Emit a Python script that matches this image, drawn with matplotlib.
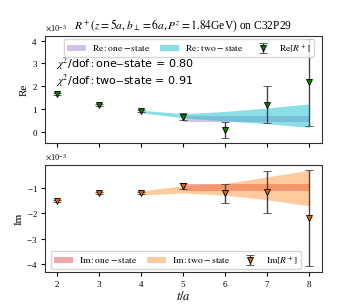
import numpy as np
import matplotlib
matplotlib.use('Agg')
import matplotlib.pyplot as plt

plt.rcParams['font.family'] = ['Liberation Serif', 'DejaVu Serif']
plt.rcParams['mathtext.fontset'] = 'stix'
plt.rcParams['axes.formatter.use_mathtext'] = True

# data points (x 1e-3)
t = [2, 3, 4, 5, 6, 7, 8]
re_val = [1.66, 1.19, 0.92, 0.67, 0.09, 1.20, 2.18]
re_err = [0.05, 0.05, 0.05, 0.14, 0.36, 0.80, 1.90]
im_val = [-1.52, -1.20, -1.20, -0.92, -1.22, -1.17, -2.20]
im_err = [0.04, 0.04, 0.04, 0.12, 0.37, 0.83, 1.88]

# fit bands
t_one = [5, 6, 7, 8]
re_one_lo = [0.43, 0.43, 0.43, 0.43]
re_one_hi = [0.70, 0.70, 0.70, 0.70]
im_one_lo = [-1.12, -1.12, -1.12, -1.12]
im_one_hi = [-0.85, -0.85, -0.85, -0.85]
t_two = [4, 5, 6, 7, 8]
re_two_lo = [0.84, 0.62, 0.48, 0.36, 0.20]
re_two_hi = [0.95, 0.80, 0.90, 1.05, 1.23]
im_two_lo = [-1.28, -1.20, -1.29, -1.47, -1.71]
im_two_hi = [-1.12, -0.92, -0.83, -0.57, -0.31]

chi2_one = 0.80
chi2_two = 0.91

fig, (ax1, ax2) = plt.subplots(2, 1, figsize=(3.57, 3.06), dpi=100, sharex=True)
fig.subplots_adjust(left=0.125, right=0.902, top=0.882, bottom=0.111, hspace=0.2)

fs = 7
leg_kw = dict(ncol=3, fontsize=6.8, handlelength=2.0, handletextpad=0.7,
              columnspacing=1.0, borderaxespad=0.3, borderpad=0.35)
ax1.fill_between(t_one, np.array(re_one_lo) * 1e-3, np.array(re_one_hi) * 1e-3,
                 color='tab:purple', alpha=0.4, lw=0, label=r'$\rm Re: one-state$')
ax1.fill_between(t_two, np.array(re_two_lo) * 1e-3, np.array(re_two_hi) * 1e-3,
                 color='tab:cyan', alpha=0.5, lw=0, label=r'$\rm Re: two-state$')
ax1.errorbar(t, np.array(re_val) * 1e-3, yerr=np.array(re_err) * 1e-3, fmt='v',
             color='green', mec='black', mew=0.6, ms=4, ecolor='#444444',
             elinewidth=1, capsize=3, label=r'$\rm Re[\mathit{R}^+]$')
ax1.set_ylim(-0.5e-3, 4.2e-3)
ax1.set_ylabel('Re', fontsize=fs + 1, labelpad=2)
ax1.legend(loc='upper center', bbox_to_anchor=(0.52, 1.0), **leg_kw)
ax1.text(0.04, 0.70, r'$\chi^2$/dof$:$one$-$state = %.2f' % chi2_one,
         transform=ax1.transAxes, fontsize=fs + 1, family='DejaVu Sans')
ax1.text(0.04, 0.545, r'$\chi^2$/dof$:$two$-$state = %.2f' % chi2_two,
         transform=ax1.transAxes, fontsize=fs + 1, family='DejaVu Sans')
ax1.set_title(r'$R^+(z=5a, b_\perp=6a, P^z=1.84$GeV) on C32P29',
              fontsize=8.3, pad=5)

ax2.fill_between(t_one, np.array(im_one_lo) * 1e-3, np.array(im_one_hi) * 1e-3,
                 color='tab:red', alpha=0.4, lw=0, label=r'$\rm Im: one-state$')
ax2.fill_between(t_two, np.array(im_two_lo) * 1e-3, np.array(im_two_hi) * 1e-3,
                 color='tab:orange', alpha=0.4, lw=0, label=r'$\rm Im: two-state$')
ax2.errorbar(t, np.array(im_val) * 1e-3, yerr=np.array(im_err) * 1e-3, fmt='v',
             color='#e06000', mec='black', mew=0.6, ms=4, ecolor='#444444',
             elinewidth=1, capsize=3, label=r'$\rm Im[\mathit{R}^+]$')
ax2.set_ylim(-4.3e-3, -0.1e-3)
ax2.set_xlim(1.7, 8.3)
ax2.set_ylabel('Im', fontsize=fs + 1, labelpad=2)
ax2.set_xlabel(r'$t/a$', fontsize=fs + 2, labelpad=1)
ax2.legend(loc='lower center', bbox_to_anchor=(0.473, 0.0), **leg_kw)

for ax in (ax1, ax2):
    ax.tick_params(labelsize=fs - 0.5, length=3, pad=2)
    ax.ticklabel_format(axis='y', style='sci', scilimits=(0, 0))
    ax.yaxis.get_offset_text().set_fontsize(fs - 1)
    for s in ax.spines.values():
        s.set_color('#333333')
ax1.tick_params(labelbottom=False)

plt.savefig('out.png', dpi=100)
